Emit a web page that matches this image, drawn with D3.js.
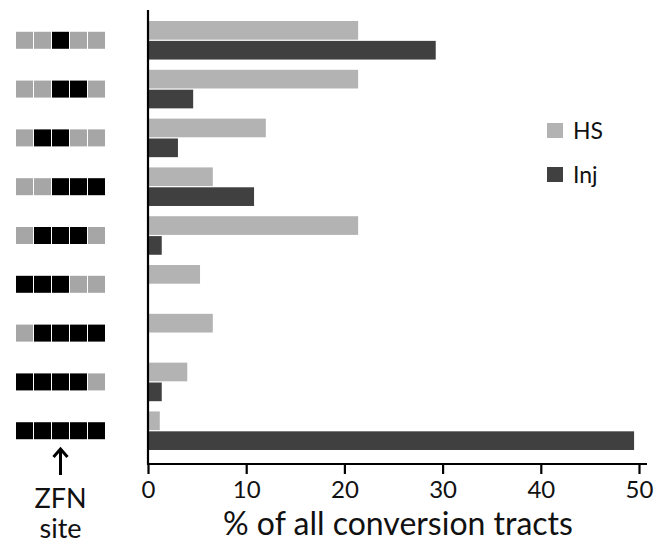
<!DOCTYPE html>
<html>
<head>
<meta charset="utf-8">
<script src="https://cdn.jsdelivr.net/npm/d3@7/dist/d3.min.js"></script>
<style>
  body { margin: 0; background: #fff; }
  svg { font-family: Lato, "Open Sans", sans-serif; }
</style>
</head>
<body>
<div class="chart"></div>
<script>
// tract patterns: g = unconverted (grey), k = converted (black)
let patterns = ["ggkgg", "ggkkg", "gkkgg", "ggkkk", "gkkkg", "kkkgg", "gkkkk", "kkkkg", "kkkkk"];
let hsValues = [21.4, 21.4, 12.0, 6.6, 21.4, 5.3, 6.6, 4.0, 1.2];
let injValues = [29.3, 4.6, 3.05, 10.8, 1.4, 0, 0, 1.4, 49.5];
let seriesNames = ["HS", "Inj"];
let seriesColors = ["#b3b3b3", "#404040"];
let xTicks = [0, 10, 20, 30, 40, 50];

let width = 669, height = 544;

let svg = d3.select(".chart")
            .append("svg")
            .attr("width", width)
            .attr("height", height);

let xScale = d3.scaleLinear()
               .domain([0, 50])
               .range([148, 639]);

let yScale = d3.scaleBand()
               .domain(d3.range(patterns.length))
               .range([21, 450])
               .paddingInner(0.21)
               .paddingOuter(0);

let subScale = d3.scaleBand()
                 .domain(seriesNames)
                 .range([0, yScale.bandwidth()])
                 .paddingInner(0.06);

let rows = patterns.map(function(p, i){
    return {pattern: p, values: [hsValues[i], injValues[i]]};
});

// bars
let groups = svg.selectAll(".group")
                .data(rows)
                .enter()
                .append("g")
                .attr("class", "group")
                .attr("transform", (d, i) => "translate(0," + yScale(i) + ")");

groups.selectAll("rect")
      .data(d => d.values.map((v, j) => ({name: seriesNames[j], value: v, color: seriesColors[j]})))
      .enter()
      .append("rect")
      .attr("x", xScale(0))
      .attr("y", d => subScale(d.name))
      .attr("width", d => xScale(d.value) - xScale(0))
      .attr("height", subScale.bandwidth())
      .attr("fill", d => d.color);

// tract icons on the left
let cell = 17, step = 18, iconLeft = 16;
groups.each(function(d){
    let g = d3.select(this);
    let cy = yScale.bandwidth() / 2 - cell / 2;
    g.selectAll(".cell")
     .data(d.pattern.split(""))
     .enter()
     .append("rect")
     .attr("class", "cell")
     .attr("x", (c, k) => iconLeft + k * step)
     .attr("y", cy)
     .attr("width", cell)
     .attr("height", cell)
     .attr("fill", c => c == "k" ? "#000" : "#a6a6a6");
});

// x axis
let xAxis = d3.axisBottom(xScale)
              .tickValues(xTicks)
              .tickSize(10)
              .tickSizeOuter(0)
              .tickPadding(7);

let axisY = 464;
let axisG = svg.append("g")
               .attr("transform", "translate(0," + axisY + ")")
               .call(xAxis);
axisG.select(".domain").remove();
axisG.selectAll(".tick line")
     .attr("stroke", "#000")
     .attr("stroke-width", 2.2);
axisG.selectAll(".tick text")
     .attr("font-family", "Lato, sans-serif")
     .attr("font-size", 24)
     .attr("fill", "#111");
axisG.append("line")
     .attr("x1", xScale(0) - 1)
     .attr("x2", xScale(50) + 8)
     .attr("y1", 0)
     .attr("y2", 0)
     .attr("stroke", "#000")
     .attr("stroke-width", 2.2);

// y axis line
svg.append("line")
   .attr("x1", xScale(0))
   .attr("x2", xScale(0))
   .attr("y1", 10)
   .attr("y2", axisY + 1)
   .attr("stroke", "#000")
   .attr("stroke-width", 2.2);

svg.append("text")
   .attr("x", 398)
   .attr("y", 535)
   .attr("text-anchor", "middle")
   .attr("font-size", 32)
   .attr("fill", "#111")
   .text("% of all conversion tracts");

// legend
let legend = svg.selectAll(".legend")
                .data(seriesNames)
                .enter()
                .append("g")
                .attr("class", "legend")
                .attr("transform", (d, i) => "translate(547," + (123 + i * 44) + ")");
legend.append("rect")
      .attr("width", 16)
      .attr("height", 15)
      .attr("fill", (d, i) => seriesColors[i]);
legend.append("text")
      .attr("x", 26)
      .attr("y", 16)
      .attr("font-size", 23)
      .attr("fill", "#111")
      .text(d => d);

// ZFN site marker
let arrowX = iconLeft + 2 * step + cell / 2;
svg.append("line")
   .attr("x1", arrowX)
   .attr("x2", arrowX)
   .attr("y1", 451)
   .attr("y2", 475)
   .attr("stroke", "#000")
   .attr("stroke-width", 3);
svg.append("path")
   .attr("d", "M" + (arrowX - 7) + ",457 L" + arrowX + ",449 L" + (arrowX + 7) + ",457")
   .attr("fill", "none")
   .attr("stroke", "#000")
   .attr("stroke-width", 3);
svg.append("text")
   .attr("x", arrowX)
   .attr("y", 508)
   .attr("text-anchor", "middle")
   .attr("font-size", 27)
   .attr("fill", "#111")
   .text("ZFN");
svg.append("text")
   .attr("x", arrowX)
   .attr("y", 538)
   .attr("text-anchor", "middle")
   .attr("font-size", 27)
   .attr("fill", "#111")
   .text("site");
</script>
</body>
</html>
